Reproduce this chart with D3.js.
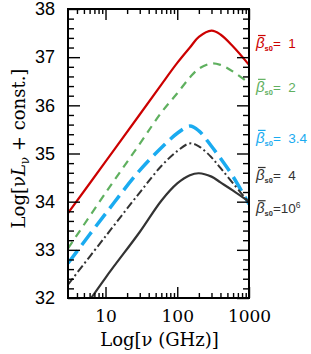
<!DOCTYPE html>
<html>
<head>
<meta charset="utf-8">
<script src="https://cdn.jsdelivr.net/npm/d3@7"></script>
<style>
  body { margin: 0; background: #fff; }
</style>
</head>
<body>
<script>
// frequencies in GHz and log luminosity for each beta_s0
const freqs = [3, 10, 30, 60, 100, 150, 200, 300, 400, 600, 1000];
const lumBeta1 = [33.76, 34.83, 35.81, 36.43, 36.88, 37.20, 37.42, 37.55, 37.47, 37.22, 36.84];
const lumBeta2 = [33.03, 34.18, 35.20, 35.85, 36.25, 36.58, 36.76, 36.87, 36.84, 36.70, 36.46];
const lumBeta34 = [32.72, 33.75, 34.65, 35.12, 35.42, 35.57, 35.47, 35.15, 34.90, 34.52, 33.95];
const lumBeta4 = [32.28, 33.28, 34.19, 34.74, 35.05, 35.21, 35.15, 34.92, 34.70, 34.38, 33.98];
const lumBeta1e6 = [31.30, 32.42, 33.37, 34.02, 34.38, 34.55, 34.59, 34.52, 34.40, 34.23, 34.00];

const seriesValues = [lumBeta1, lumBeta2, lumBeta34, lumBeta4, lumBeta1e6];
const seriesLabels = ['=  1', '=  2', '=  3.4', '=  4', '=10'];
const labelLum = [37.19, 36.28, 35.22, 34.45, 33.76];   // where each label sits (y units)

const xMajor = [10, 100, 1000];
const xMinor = [4, 5, 6, 7, 8, 9, 20, 30, 40, 50, 60, 70, 80, 90, 200, 300, 400, 500, 600, 700, 800, 900];
const yMajor = [32, 33, 34, 35, 36, 37, 38];

const colors = ['#cc0000', '#5fb05f', '#1aabf0', '#333333', '#333333'];
const dashes = [null, '8,6', '16,7', '8,3,2,3', null];
const widths = [2.2, 2.2, 3.5, 2, 2.2];

const svgWidth = 311;
const svgHeight = 354;
const margin = { top: 9, right: 62, bottom: 56, left: 68 };

const svg = d3.select('body')
    .append('svg')
    .attr('width', svgWidth)
    .attr('height', svgHeight);

const xScale = d3.scaleLog()
    .domain([3, 1000])
    .range([margin.left, svgWidth - margin.right]);

const yScale = d3.scaleLinear()
    .domain([32, 38])
    .range([svgHeight - margin.bottom, margin.top]);

const x0 = xScale.range()[0], x1 = xScale.range()[1];
const y0 = yScale.range()[0], y1 = yScale.range()[1];

svg.append('clipPath').attr('id', 'plot')
    .append('rect')
    .attr('x', x0).attr('y', y1)
    .attr('width', x1 - x0).attr('height', y0 - y1);

// lines
const line = d3.line()
    .x((d, i) => xScale(freqs[i]))
    .y(d => yScale(d))
    .curve(d3.curveCatmullRom.alpha(0.5));

svg.append('g')
    .attr('clip-path', 'url(#plot)')
    .selectAll('path')
    .data(seriesValues)
    .enter()
    .append('path')
    .attr('d', d => line(d))
    .attr('fill', 'none')
    .attr('stroke', (d, i) => colors[i])
    .attr('stroke-width', (d, i) => widths[i])
    .attr('stroke-dasharray', (d, i) => dashes[i]);

// ticks, all pointing inward
function styleAxis(g) {
    g.select('.domain').remove();
    g.selectAll('.tick line').attr('stroke', '#000').attr('stroke-width', 1.4);
}

const minorY = d3.range(160, 191).map(v => v / 5).filter(v => v % 1 !== 0);

svg.append('g')
    .attr('transform', `translate(0,${y0})`)
    .call(d3.axisBottom(xScale).tickValues(xMajor).tickSize(-11).tickPadding(12).tickFormat(d3.format('d')))
    .call(styleAxis)
    .call(g => g.selectAll('text')
        .attr('fill', '#000')
        .style('font-family', '"DejaVu Serif", serif')
        .style('font-size', '17px'));

svg.append('g')
    .attr('transform', `translate(0,${y0})`)
    .call(d3.axisBottom(xScale).tickValues(xMinor).tickSize(-5).tickFormat(''))
    .call(styleAxis);

svg.append('g')
    .attr('transform', `translate(0,${y1})`)
    .call(d3.axisTop(xScale).tickValues(xMajor).tickSize(-11).tickFormat(''))
    .call(styleAxis);

svg.append('g')
    .attr('transform', `translate(0,${y1})`)
    .call(d3.axisTop(xScale).tickValues(xMinor).tickSize(-5).tickFormat(''))
    .call(styleAxis);

svg.append('g')
    .attr('transform', `translate(${x0},0)`)
    .call(d3.axisLeft(yScale).tickValues(yMajor).tickSize(-12).tickPadding(13).tickFormat(d3.format('d')))
    .call(styleAxis)
    .call(g => g.selectAll('text')
        .attr('fill', '#000')
        .style('font-family', '"Liberation Sans", Arial, sans-serif')
        .style('font-size', '18px'));

svg.append('g')
    .attr('transform', `translate(${x0},0)`)
    .call(d3.axisLeft(yScale).tickValues(minorY).tickSize(-6).tickFormat(''))
    .call(styleAxis);

svg.append('g')
    .attr('transform', `translate(${x1},0)`)
    .call(d3.axisRight(yScale).tickValues(yMajor).tickSize(-12).tickFormat(''))
    .call(styleAxis);

svg.append('g')
    .attr('transform', `translate(${x1},0)`)
    .call(d3.axisRight(yScale).tickValues(minorY).tickSize(-6).tickFormat(''))
    .call(styleAxis);

// frame
svg.append('rect')
    .attr('x', x0).attr('y', y1)
    .attr('width', x1 - x0).attr('height', y0 - y1)
    .attr('fill', 'none')
    .attr('stroke', '#000')
    .attr('stroke-width', 2);

// axis titles
svg.append('text')
    .attr('x', (x0 + x1) / 2 + 1)
    .attr('y', 346)
    .attr('text-anchor', 'middle')
    .style('font-family', '"DejaVu Serif", serif')
    .style('font-size', '18px')
    .text('Log[\u03bd (GHz)]');

const yTitle = svg.append('text')
    .attr('transform', `translate(25,${(y0 + y1) / 2 - 5}) rotate(-90)`)
    .attr('text-anchor', 'middle')
    .style('font-family', '"DejaVu Serif", serif')
    .style('font-size', '18px');
yTitle.append('tspan').text('Log[\u03bd');
yTitle.append('tspan').style('font-style', 'italic').text('L');
yTitle.append('tspan').attr('dy', 4).style('font-size', '12px').text('\u03bd');
yTitle.append('tspan').attr('dy', -4).text(' + const.]');

// curve labels
const labels = svg.append('g')
    .selectAll('text')
    .data(seriesLabels)
    .enter()
    .append('text')
    .attr('x', x1 + 7)
    .attr('y', (d, i) => yScale(labelLum[i]))
    .attr('fill', (d, i) => colors[i])
    .style('font-family', '"Liberation Sans", Arial, sans-serif')
    .style('font-size', '13.5px')
    .style('white-space', 'pre');

labels.append('tspan')
    .style('font-style', 'italic')
    .style('font-size', '15px')
    .text('\u03b2');
labels.append('tspan')
    .attr('dy', 3)
    .style('font-size', '7.5px')
    .style('font-weight', 'bold')
    .text('s0');
labels.append('tspan')
    .attr('dy', -3)
    .text(d => d);
labels.filter((d, i) => i === 4)
    .append('tspan')
    .attr('dy', -5)
    .style('font-size', '8.5px')
    .text('6');

// bar over beta
labels.each(function (d, i) {
    const r = this.getExtentOfChar(0);
    svg.append('line')
        .attr('x1', r.x + 2).attr('x2', r.x + r.width + 1)
        .attr('y1', r.y + 1.5).attr('y2', r.y + 1.5)
        .attr('stroke', colors[i])
        .attr('stroke-width', 1.2);
});
</script>
</body>
</html>
